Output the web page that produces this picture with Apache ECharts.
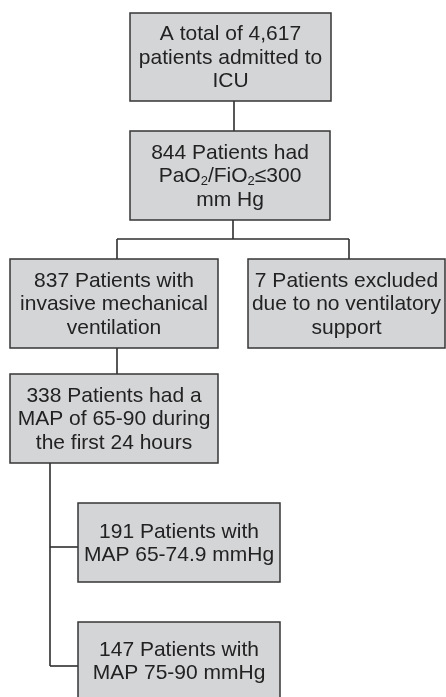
<!DOCTYPE html>
<html>
<head>
<meta charset="utf-8">
<script src="https://cdn.jsdelivr.net/npm/echarts@6/dist/echarts.min.js"></script>
<style>html,body{margin:0;padding:0;background:#fff}#c{width:446px;height:697px}</style>
</head>
<body>
<div id="c"></div>
<script>
// Node texts (content)
const nodeLabels = [
  "A total of 4,617\npatients admitted to\nICU",
  "844 Patients had\nPaO₂/FiO₂≤300\nmm Hg",
  "837 Patients with\ninvasive mechanical\nventilation",
  "7 Patients excluded\ndue to no ventilatory\nsupport",
  "338 Patients had a\nMAP of 65-90 during\nthe first 24 hours",
  "191 Patients with\nMAP 65-74.9 mmHg",
  "147 Patients with\nMAP 75-90 mmHg"
];
// Layout (box corners in page units)
const nodeBoxes = [
  [130, 13, 331, 101],
  [130, 131, 330, 220],
  [10, 259, 218, 348],
  [248, 259, 445, 348],
  [10, 374, 218, 463],
  [78, 503, 280, 582],
  [78, 622, 280, 699]
];
const connectors = [
  [[234, 101], [234, 131]],
  [[233, 220], [233, 239]],
  [[117, 239], [349, 239]],
  [[117, 239], [117, 259]],
  [[349, 239], [349, 259]],
  [[117, 348], [117, 374]],
  [[50, 463], [50, 666]],
  [[50, 547], [78, 547]],
  [[50, 666], [78, 666]]
];

const FONT = '"Liberation Sans", Arial, sans-serif';

function toRich(s) {
  return s.replace(/₂/g, '{s|2}').split('\n').map(function (l) {
    return l.split(/(\{s\|2\})/).map(function (p) {
      if (p === '{s|2}') return p;
      return p ? '{n|' + p + '}' : '';
    }).join('');
  }).join('\n');
}

const chart = echarts.init(document.getElementById('c'), null, {renderer: 'canvas'});
chart.setOption({
  animation: false,
  backgroundColor: '#ffffff',
  grid: {left: 0, right: 0, top: 0, bottom: 0},
  xAxis: {type: 'value', min: 0, max: 446, show: false},
  yAxis: {type: 'value', min: 0, max: 697, inverse: true, show: false},
  series: [
    {
      type: 'custom',
      coordinateSystem: 'cartesian2d',
      data: connectors.map(function (c, i) { return [i]; }),
      renderItem: function (params, api) {
        const seg = connectors[params.dataIndex];
        const pts = seg.map(function (p) { return api.coord(p); });
        return {
          type: 'polyline',
          shape: {points: pts},
          style: {stroke: '#2e2e2e', lineWidth: 1.6, fill: null}
        };
      },
      z: 1
    },
    {
      type: 'custom',
      coordinateSystem: 'cartesian2d',
      data: nodeLabels.map(function (t, i) { return [i]; }),
      renderItem: function (params, api) {
        const b = nodeBoxes[params.dataIndex];
        const p0 = api.coord([b[0], b[1]]);
        const p1 = api.coord([b[2], b[3]]);
        const x = p0[0], y = p0[1], w = p1[0] - p0[0], h = p1[1] - p0[1];
        return {
          type: 'group',
          children: [
            {
              type: 'rect',
              shape: {x: x, y: y, width: w, height: h},
              style: {fill: '#d4d5d7', stroke: '#363636', lineWidth: 1.5}
            },
            {
              type: 'text',
              x: x + w / 2,
              y: y + h / 2 + 1,
              style: {
                text: toRich(nodeLabels[params.dataIndex]),
                align: 'center',
                verticalAlign: 'middle',
                fill: '#222',
                font: '21px ' + FONT,
                lineHeight: 23.5,
                rich: {
                  n: {fontSize: 21, fontFamily: FONT, fill: '#222', lineHeight: 23.5},
                  s: {fontSize: 13, fontFamily: FONT, fill: '#222', lineHeight: 23.5, verticalAlign: 'bottom', padding: [10, 0, 0, 0]}
                }
              }
            }
          ]
        };
      },
      z: 2
    }
  ]
});
</script>
</body>
</html>
